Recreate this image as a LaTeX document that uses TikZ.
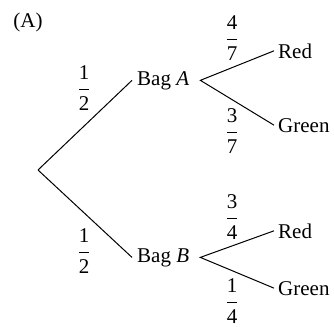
\RequirePackage{fix-cm}
\documentclass[tikz,border=0pt]{standalone}
\usepackage{fontspec}
\setmainfont{Liberation Serif}
\newcommand{\myfr}[2]{$\displaystyle\frac{\mbox{#1}}{\rule{0pt}{0.95em}\mbox{#2}}$}
\begin{document}
\begin{tikzpicture}[x=1bp,y=-1bp,
  every node/.style={font=\fontsize{21bp}{25bp}\selectfont},
  lbl/.style={inner xsep=4bp,inner ysep=0pt,anchor=base west},
  bag/.style={inner xsep=5bp,inner ysep=0pt,anchor=base west},
  frac/.style={inner sep=0pt,anchor=base},
  edge/.style={line width=1bp,black}]
\useasboundingbox (0,0) rectangle (334,327);
\node[anchor=base] (title) at (28,27) {(A)};
\coordinate (root) at (38,170);
\node[bag] (bagA) at (132,85) {Bag \textit{A}};
\node[bag] (bagB) at (132,262) {Bag \textit{B}};
\node[lbl] (redA) at (274,58) {Red};
\node[lbl] (greenA) at (274,132) {Green};
\node[lbl] (redB) at (274,238) {Red};
\node[lbl] (greenB) at (274,295) {Green};
\draw[edge] (root) -- (bagA.west);
\draw[edge] (root) -- (bagB.west);
\draw[edge] (redA.west) -- ([xshift=6bp]bagA.east) -- (greenA.west);
\draw[edge] (redB.west) -- ([xshift=6bp]bagB.east) -- (greenB.west);
\node[frac] (pA) at (84,94) {\myfr{1}{2}};
\node[frac] (pB) at (84,257) {\myfr{1}{2}};
\node[frac] (pAr) at (232,44) {\myfr{4}{7}};
\node[frac] (pAg) at (232,137) {\myfr{3}{7}};
\node[frac] (pBr) at (232,223) {\myfr{3}{4}};
\node[frac] (pBg) at (232,307) {\myfr{1}{4}};
\end{tikzpicture}
\end{document}
